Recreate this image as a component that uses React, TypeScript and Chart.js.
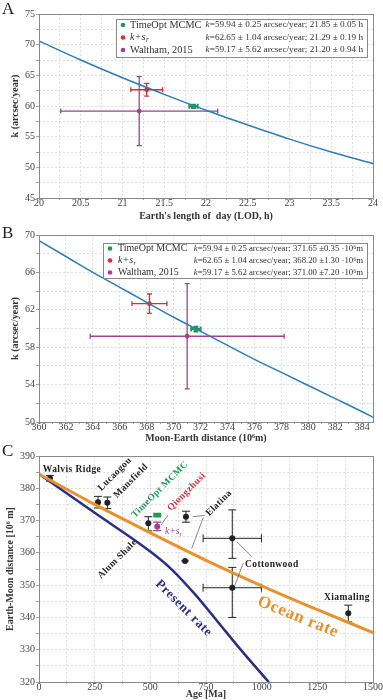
import React, { useEffect, useRef } from 'react';
import { Chart, registerables } from 'chart.js';
Chart.register(...registerables);

const SERIF = '"Liberation Serif", "Times New Roman", serif';
const GRID = '#d6d6d6';
const FRAME = '#8a8a8a';

// ---------- Panel A : k vs length of day ----------
const lodGrid = [20, 20.5, 21, 21.5, 22, 22.5, 23, 23.5, 24];
const kLodCurve = [70.6, 67.5, 64.6, 61.9, 59.3, 56.9, 54.6, 52.5, 50.6];
const lodTickLabels = [20, 20.5, 21, 21.5, 22, 22.5, 23, 23.5, 24];

const seriesNames = ['TimeOpt MCMC', 'k+s', 'Waltham, 2015'];
const seriesColors = ['#1f9a55', '#cc3333', '#a0428f'];
const kValues = [59.94, 62.65, 59.17];
const kErrors = [0.25, 1.04, 5.62];
const lodValues = [21.85, 21.29, 21.2];
const lodErrors = [0.05, 0.19, 0.94];

// ---------- Panel B : k vs Moon-Earth distance ----------
const distGrid = [360, 362, 364, 366, 368, 370, 372, 374, 376, 378, 380, 382, 384, 384.8];
const kDistCurve = [69.4, 67.7, 66.0, 64.4, 62.8, 61.2, 59.7, 58.2, 56.7, 55.3, 53.9, 52.5, 51.1, 50.5];
const distTickLabels = [360, 362, 364, 366, 368, 370, 372, 374, 376, 378, 380, 382, 384];
const distValues = [371.65, 368.2, 371.0];
const distErrors = [0.35, 1.3, 7.2];

// ---------- Panel C : Earth-Moon distance vs age ----------
const ageTickLabels = [0, 250, 500, 750, 1000, 1250, 1500];
const oceanAge = [0, 250, 500, 750, 1000, 1250, 1500];
const oceanDist = [384.4, 375.0, 366.2, 357.7, 349.8, 342.4, 335.3];
const presentAge = [0, 250, 500, 600, 700, 800, 900, 1000, 1032];
const presentDist = [384.4, 372.4, 360.4, 354.6, 347.2, 338.9, 330.5, 322.5, 320];

const siteNames = ['Walvis Ridge', 'Lucaogou', 'Mansfield', 'Alum Shale', 'Elatina', 'Elatina', 'Cottonwood', 'Cottonwood', 'Xiamaling'];
const siteAge = [49, 265, 307, 491, 660, 656, 868, 868, 1389];
const siteDist = [383.1, 375.7, 375.5, 369.2, 371.2, 357.5, 364.5, 349.2, 341.3];
const siteAgeErr = [0, 0, 0, 0, 0, 18, 131, 131, 0];
const siteDistErrUp = [0.9, 1.8, 1.8, 2.0, 1.7, 0, 8.8, 6.3, 2.5];
const siteDistErrDown = [0.9, 1.8, 1.8, 2.4, 1.7, 0, 6.2, 9.2, 2.7];

const studyNames = ['TimeOpt MCMC', 'k+s'];
const studyColors = ['#1f9a55', '#a0428f'];
const studyAge = [531, 531];
const studyDist = [371.65, 368.2];
const studyDistErr = [0.35, 1.3];

// annotation texts of panel C (anchors in data units)
const cLabels = [
  { text: 'Walvis Ridge', x: 148, y: 385.7, angle: 0, color: '#222', size: 9.5, align: 'center' },
  { text: 'Lucaogou', x: 341, y: 384.4, angle: -45, color: '#222', size: 9.5, align: 'center' },
  { text: 'Mansfield', x: 413, y: 382.3, angle: -45, color: '#222', size: 9.5, align: 'center' },
  { text: 'TimeOpt MCMC', x: 543, y: 379.6, angle: -45, color: '#1f9a55', size: 9.5, align: 'center' },
  { text: 'Qiongzhusi', x: 663, y: 378.9, angle: -45, color: '#d42a3a', size: 9.5, align: 'center' },
  { text: 'Elatina', x: 808, y: 375.4, angle: -45, color: '#222', size: 9.5, align: 'center' },
  { text: 'Alum Shale', x: 352, y: 358.1, angle: -45, color: '#222', size: 9.5, align: 'center' },
  { text: 'Cottonwood', x: 925, y: 356.4, angle: 0, color: '#222', size: 9.5, align: 'left' },
  { text: 'Xiamaling', x: 1383, y: 346.3, angle: 0, color: '#222', size: 9.5, align: 'center' },
  { text: 'Present rate', x: 650, y: 342.8, angle: 45, color: '#2a2f86', size: 13, align: 'center' },
  { text: 'Ocean rate', x: 1163, y: 340.1, angle: 22, color: '#e8902a', size: 17, align: 'center' },
];
const leaderLines = [
  [[548, 368.6], [579, 371.7]],
  [[690, 371.2], [745, 371.6]],
  [[686, 361.4], [738, 371.0]],
  [[888, 363.5], [955, 358.9]],
  [[880, 350.0], [917, 356.8]],
];

// ---------- helpers ----------
const isMult = (v: number, m: number) => {
  const r = v / m;
  return Math.abs(r - Math.round(r)) < 1e-6;
};
const fmt = (v: number) => String(Math.round(v * 100) / 100);
const font = (size: number, bold = false, italic = false) =>
  `${italic ? 'italic ' : ''}${bold ? 'bold ' : ''}${size}px ${SERIF}`;

type Bar = { x: number; y: number; xm: number; xp: number; ym: number; yp: number; color: string; width: number; cap: number };

function errorBarPlugin(bars: Bar[]) {
  return {
    id: 'errorBars',
    beforeDatasetsDraw(chart: any) {
      const { ctx, scales } = chart;
      const sx = scales.x, sy = scales.y;
      ctx.save();
      for (const b of bars) {
        ctx.strokeStyle = b.color;
        ctx.lineWidth = b.width;
        const px = sx.getPixelForValue(b.x), py = sy.getPixelForValue(b.y);
        const c = b.cap / 2;
        if (b.xm > 0 || b.xp > 0) {
          const x1 = sx.getPixelForValue(b.x - b.xm), x2 = sx.getPixelForValue(b.x + b.xp);
          ctx.beginPath();
          ctx.moveTo(x1, py); ctx.lineTo(x2, py);
          ctx.moveTo(x1, py - c); ctx.lineTo(x1, py + c);
          ctx.moveTo(x2, py - c); ctx.lineTo(x2, py + c);
          ctx.stroke();
        }
        if (b.ym > 0 || b.yp > 0) {
          const y1 = sy.getPixelForValue(b.y - b.ym), y2 = sy.getPixelForValue(b.y + b.yp);
          ctx.beginPath();
          ctx.moveTo(px, y1); ctx.lineTo(px, y2);
          ctx.moveTo(px - c, y1); ctx.lineTo(px + c, y1);
          ctx.moveTo(px - c, y2); ctx.lineTo(px + c, y2);
          ctx.stroke();
        }
      }
      ctx.restore();
    },
  };
}

const framePlugin = {
  id: 'frame',
  afterDatasetsDraw(chart: any) {
    const { ctx, chartArea: a } = chart;
    ctx.save();
    ctx.strokeStyle = FRAME;
    ctx.lineWidth = 1;
    ctx.strokeRect(Math.round(a.left) + 0.5, Math.round(a.top) + 0.5, Math.round(a.right - a.left), Math.round(a.bottom - a.top));
    ctx.restore();
  },
};

// x tick labels, placed through the x scale
function xLabelPlugin(values: number[], gap: number) {
  return {
    id: 'xLabels',
    afterDraw(chart: any) {
      const ctx = chart.ctx as CanvasRenderingContext2D;
      const sx = chart.scales.x;
      ctx.save();
      ctx.font = font(10);
      ctx.fillStyle = '#444';
      ctx.textAlign = 'center';
      ctx.textBaseline = 'middle';
      for (const v of values) {
        ctx.fillText(fmt(v), sx.getPixelForValue(v), chart.chartArea.bottom + gap);
      }
      ctx.restore();
    },
  };
}

function drawKS(ctx: CanvasRenderingContext2D, x: number, y: number, size: number) {
  ctx.font = font(size, false, true);
  ctx.fillText('k+s', x, y);
  const w = ctx.measureText('k+s').width;
  ctx.font = font(size * 0.7, false, true);
  ctx.fillText('r', x + w + 0.5, y + size * 0.3);
}

type LegendSpec = { box: number[]; dotX: number; nameX: number; textRight: number; rowY: number[]; texts: string[]; size: number; nameSize: number };

function legendPlugin(L: LegendSpec) {
  return {
    id: 'legendBox',
    afterDraw(chart: any) {
      const ctx = chart.ctx as CanvasRenderingContext2D;
      const [l, t, r, b] = L.box;
      ctx.save();
      ctx.fillStyle = '#fff';
      ctx.fillRect(l, t, r - l, b - t);
      ctx.strokeStyle = '#8a8a8a';
      ctx.lineWidth = 1;
      ctx.strokeRect(l + 0.5, t + 0.5, r - l, b - t);
      ctx.textBaseline = 'middle';
      L.rowY.forEach((y, i) => {
        ctx.fillStyle = seriesColors[i];
        ctx.beginPath();
        ctx.arc(L.dotX, y, 2.3, 0, Math.PI * 2);
        ctx.fill();
        ctx.fillStyle = '#333';
        ctx.textAlign = 'left';
        if (i === 1) drawKS(ctx, L.nameX, y, L.nameSize);
        else {
          ctx.font = font(L.nameSize);
          ctx.fillText(seriesNames[i], L.nameX, y);
        }
        ctx.font = font(L.size);
        const w = ctx.measureText(L.texts[i]).width;
        ctx.fillText(L.texts[i], L.textRight - w, y);
        ctx.font = font(L.size, false, true);
        ctx.textAlign = 'right';
        ctx.fillText('k', L.textRight - w, y);
      });
      ctx.restore();
    },
  };
}

function cLabelPlugin() {
  return {
    id: 'cLabels',
    afterDatasetsDraw(chart: any) {
      const ctx = chart.ctx as CanvasRenderingContext2D;
      const sx = chart.scales.x, sy = chart.scales.y;
      ctx.save();
      ctx.strokeStyle = '#555';
      ctx.lineWidth = 0.7;
      for (const seg of leaderLines) {
        ctx.beginPath();
        ctx.moveTo(sx.getPixelForValue(seg[0][0]), sy.getPixelForValue(seg[0][1]));
        ctx.lineTo(sx.getPixelForValue(seg[1][0]), sy.getPixelForValue(seg[1][1]));
        ctx.stroke();
      }
      ctx.textBaseline = 'middle';
      for (const L of cLabels) {
        ctx.save();
        ctx.translate(sx.getPixelForValue(L.x), sy.getPixelForValue(L.y));
        ctx.rotate((L.angle * Math.PI) / 180);
        ctx.font = font(L.size, true);
        (ctx as any).letterSpacing = L.size > 12 ? '0.6px' : '0.4px';
        ctx.fillStyle = L.color;
        ctx.textAlign = L.align as CanvasTextAlign;
        ctx.fillText(L.text, 0, 0);
        ctx.restore();
      }
      ctx.fillStyle = '#a0428f';
      ctx.textAlign = 'left';
      drawKS(ctx, sx.getPixelForValue(566), sy.getPixelForValue(366.6), 9.5);
      ctx.restore();
    },
  };
}

type AxisSpec = {
  xmin: number; xmax: number; xstep: number; xgrid: number; xtitle: string; xBox: number;
  ymin: number; ymax: number; ystep: number; ygrid: number; yevery: number; ytitle: string; yBox: number; yTitlePad: number;
};

function makeTicks(min: number, max: number, step: number) {
  const t: { value: number }[] = [];
  for (let i = 0; min + i * step <= max + 1e-9; i++) t.push({ value: Math.round((min + i * step) * 1000) / 1000 });
  return t;
}

function scalesFor(o: AxisSpec) {
  const tickFont = { family: SERIF, size: 10 };
  const titleFont = { family: SERIF, size: 10, weight: 'bold' as const };
  return {
    x: {
      type: 'linear' as const,
      min: o.xmin,
      max: o.xmax,
      afterFit: (s: any) => { s.height = o.xBox; },
      afterBuildTicks: (s: any) => { s.ticks = makeTicks(o.xmin, o.xmax, o.xstep); },
      grid: {
        color: (c: any) => (c.tick && isMult(c.tick.value - o.xmin, o.xgrid) ? GRID : 'rgba(0,0,0,0)'),
        lineWidth: 0.8, tickLength: 2, tickColor: '#888', tickWidth: 0.8,
      },
      border: { display: false, dash: [2, 2] },
      ticks: { display: false, autoSkip: false },
      title: { display: true, text: o.xtitle, font: titleFont, color: '#333', padding: { top: 0, bottom: 0 } },
    },
    y: {
      type: 'linear' as const,
      min: o.ymin,
      max: o.ymax,
      afterFit: (s: any) => { s.width = o.yBox; },
      afterBuildTicks: (s: any) => { s.ticks = makeTicks(o.ymin, o.ymax, o.ystep); },
      grid: {
        color: (c: any) => (c.tick && isMult(c.tick.value - o.ymin, o.ygrid) ? GRID : 'rgba(0,0,0,0)'),
        lineWidth: 0.8, tickLength: 3, tickColor: '#888', tickWidth: 0.8,
      },
      border: { display: false, dash: [2, 2] },
      ticks: {
        autoSkip: false, padding: 1,
        font: tickFont, color: '#444',
        callback: (v: any) => (isMult(Number(v) - o.ymin, o.yevery) ? fmt(Number(v)) : ''),
      },
      title: { display: true, text: o.ytitle, font: titleFont, color: '#333', padding: { top: o.yTitlePad, bottom: 0 } },
    },
  };
}

function baseOptions(scales: any, padTop: number) {
  return {
    responsive: false,
    animation: false as const,
    layout: { padding: { top: padTop, right: 10, left: 0, bottom: 0 } },
    plugins: { legend: { display: false }, tooltip: { enabled: false }, title: { display: false } },
    scales,
  };
}

function pointsFor(xs: number[]) {
  return xs.map((x, i) => ({
    type: 'scatter' as const,
    data: [{ x, y: kValues[i] }],
    backgroundColor: seriesColors[i],
    borderColor: seriesColors[i],
    pointRadius: 2.4,
    borderWidth: 0,
  }));
}

function barsFor(xs: number[], xe: number[]): Bar[] {
  return xs.map((x, i) => ({
    x, y: kValues[i], xm: xe[i], xp: xe[i], ym: kErrors[i], yp: kErrors[i],
    color: seriesColors[i], width: i === 0 ? 2 : 1.3, cap: 5,
  }));
}

function buildA() {
  const texts = kValues.map((k, i) =>
    `=${k.toFixed(2)} ± ${kErrors[i].toFixed(2)} arcsec/year; ${lodValues[i].toFixed(2)} ± ${lodErrors[i].toFixed(2)} h`);
  return {
    type: 'scatter' as const,
    data: {
      datasets: [
        {
          type: 'line' as const,
          data: lodGrid.map((x, i) => ({ x, y: kLodCurve[i] })),
          borderColor: '#2b7db8', borderWidth: 1.5, pointRadius: 0, cubicInterpolationMode: 'monotone' as const, fill: false,
        },
        ...pointsFor(lodValues),
      ],
    },
    options: baseOptions(scalesFor({
      xmin: 20, xmax: 24, xstep: 0.25, xgrid: 0.25, xtitle: "Earth's length of  day (LOD, h)", xBox: 24,
      ymin: 45, ymax: 75, ystep: 2.5, ygrid: 2.5, yevery: 5, ytitle: 'k (arcsec/year)', yBox: 39, yTitlePad: 9,
    }), 14),
    plugins: [errorBarPlugin(barsFor(lodValues, lodErrors)), framePlugin, xLabelPlugin(lodTickLabels, 5.5),
      legendPlugin({ box: [116, 19, 367, 57], dotX: 123, nameX: 130, textRight: 363, rowY: [25, 37.5, 50], texts, size: 9.2, nameSize: 10.3 })],
  };
}

function buildB() {
  const texts = kValues.map((k, i) =>
    `=${k.toFixed(2)} ± ${kErrors[i].toFixed(2)} arcsec/year; ${distValues[i].toFixed(2)} ±${distErrors[i].toFixed(2)} ·10⁶m`);
  return {
    type: 'scatter' as const,
    data: {
      datasets: [
        {
          type: 'line' as const,
          data: distGrid.map((x, i) => ({ x, y: kDistCurve[i] })),
          borderColor: '#2b7db8', borderWidth: 1.5, pointRadius: 0, cubicInterpolationMode: 'monotone' as const, fill: false,
        },
        ...pointsFor(distValues),
      ],
    },
    options: baseOptions(scalesFor({
      xmin: 360, xmax: 384.8, xstep: 1, xgrid: 2, xtitle: 'Moon-Earth distance (10⁶m)', xBox: 22,
      ymin: 50, ymax: 70, ystep: 2, ygrid: 2, yevery: 4, ytitle: 'k (arcsec/year)', yBox: 39, yTitlePad: 9,
    }), 13),
    plugins: [errorBarPlugin(barsFor(distValues, distErrors)), framePlugin,
      legendPlugin({ box: [103, 21, 367, 56], dotX: 110, nameX: 118, textRight: 363, rowY: [26.5, 38.5, 50.5], texts, size: 8.75, nameSize: 10 }),
      xLabelPlugin(distTickLabels, 5.5)],
  };
}

function buildC() {
  const bars: Bar[] = siteAge.map((x, i) => ({
    x, y: siteDist[i], xm: siteAgeErr[i], xp: siteAgeErr[i], ym: siteDistErrDown[i], yp: siteDistErrUp[i],
    color: '#222', width: 1, cap: i === 5 ? 0 : 8,
  }));
  studyAge.forEach((x, i) => bars.push({
    x, y: studyDist[i], xm: 0, xp: 0, ym: studyDistErr[i], yp: studyDistErr[i],
    color: studyColors[i], width: i === 0 ? 2.5 : 1.2, cap: 8,
  }));
  return {
    type: 'scatter' as const,
    data: {
      datasets: [
        {
          type: 'line' as const, label: 'Ocean rate',
          data: oceanAge.map((x, i) => ({ x, y: oceanDist[i] })),
          borderColor: '#e8922c', borderWidth: 3, pointRadius: 0, cubicInterpolationMode: 'monotone' as const, fill: false,
        },
        {
          type: 'line' as const, label: 'Present rate',
          data: presentAge.map((x, i) => ({ x, y: presentDist[i] })),
          borderColor: '#2a2f86', borderWidth: 2.5, pointRadius: 0, cubicInterpolationMode: 'monotone' as const, fill: false,
        },
        {
          type: 'scatter' as const, label: 'sites',
          data: siteAge.map((x, i) => ({ x, y: siteDist[i] })),
          backgroundColor: '#222', pointRadius: 3, borderWidth: 0,
        },
        ...studyAge.map((x, i) => ({
          type: 'scatter' as const, label: studyNames[i],
          data: [{ x, y: studyDist[i] }],
          backgroundColor: studyColors[i], pointRadius: i === 0 ? 0 : 3, borderWidth: 0,
        })),
      ],
    },
    options: baseOptions(scalesFor({
      xmin: 0, xmax: 1500, xstep: 125, xgrid: 125, xtitle: 'Age [Ma]', xBox: 18,
      ymin: 320, ymax: 390, ystep: 5, ygrid: 5, yevery: 10, ytitle: 'Earth-Moon distance [10⁶ m]', yBox: 39, yTitlePad: 4,
    }), 12),
    plugins: [errorBarPlugin(bars), framePlugin, cLabelPlugin(), xLabelPlugin(ageTickLabels, 5)],
  };
}

function Panel({ top, height, build }: { top: number; height: number; build: () => any }) {
  const ref = useRef<HTMLCanvasElement>(null);
  useEffect(() => {
    const chart = new Chart(ref.current as HTMLCanvasElement, build());
    return () => chart.destroy();
  }, []);
  return (
    <div style={{ position: 'absolute', left: 0, top, width: 383, height, overflow: 'hidden' }}>
      <canvas ref={ref} width={383} height={height} style={{ display: 'block', width: 383, height }} />
    </div>
  );
}

const letterStyle = (top: number): React.CSSProperties => ({
  position: 'absolute', left: 2, top, fontFamily: SERIF, fontSize: 17, lineHeight: '17px', color: '#222',
});

export default function App() {
  return (
    <div style={{ position: 'absolute', left: 0, top: 0, width: 383, height: 700, background: '#fff', overflow: 'hidden' }}>
      <Panel top={0} height={222} build={buildA} />
      <Panel top={222} height={222} build={buildB} />
      <Panel top={444} height={256} build={buildC} />
      <div style={letterStyle(0)}>A</div>
      <div style={letterStyle(224)}>B</div>
      <div style={letterStyle(442)}>C</div>
    </div>
  );
}
